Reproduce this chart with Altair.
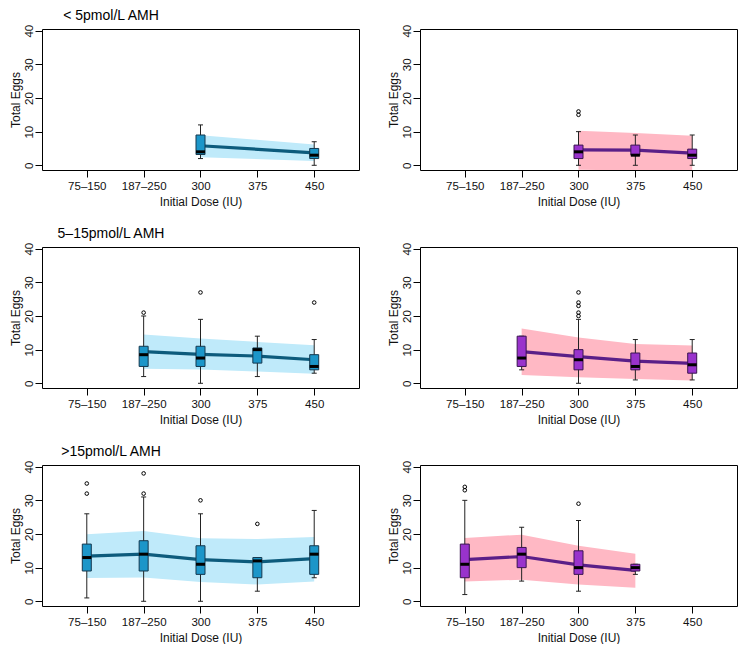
import json
import altair as alt
import pandas as pd

# ---- data ----
dose_labels = ["75–150", "187–250", "300", "375", "450"]
dose_pos = [1, 2, 3, 4, 5]

titles = ["< 5pmol/L AMH", "5–15pmol/L AMH", ">15pmol/L AMH"]

# Row 1 left
l1_pos = [3, 5]
l1_q1 = [3.2, 2]
l1_med = [4, 3]
l1_q3 = [9, 5]
l1_wlo = [2, 0]
l1_whi = [12, 7]
l1_out_pos = []
l1_out_val = []
l1_fit = [5.8, 3.7]
l1_hi = [8.9, 6.2]
l1_lo = [2.4, 1.3]

# Row 1 right
r1_pos = [3, 4, 5]
r1_q1 = [2, 3, 2]
r1_med = [4, 3, 3]
r1_q3 = [6, 6, 4.8]
r1_wlo = [0, 0, 0]
r1_whi = [10, 9, 9]
r1_out_pos = [3, 3]
r1_out_val = [15, 16]
r1_fit = [4.6, 4.5, 3.6]
r1_hi = [10.3, 9.6, 8.8]
r1_lo = [-1.3, -1.6, -2.0]

# Row 2 left
l2_pos = [2, 3, 4, 5]
l2_q1 = [5, 5, 6, 4]
l2_med = [8.5, 7.5, 10, 5]
l2_q3 = [11, 11, 10.5, 8.5]
l2_wlo = [2, 0, 2, 3]
l2_whi = [20, 19, 14, 13]
l2_out_pos = [2, 3, 5]
l2_out_val = [21, 27, 24]
l2_fit = [9.4, 8.6, 8.1, 7.0]
l2_hi = [14.5, 13.3, 12.3, 11.3]
l2_lo = [4.3, 4.1, 3.5, 2.8]

# Row 2 right
r2_pos = [2, 3, 4, 5]
r2_q1 = [5, 4, 4, 3]
r2_med = [7.5, 7, 5, 5.5]
r2_q3 = [14, 10, 9, 9]
r2_wlo = [4, 0, 1, 1]
r2_whi = [14, 19, 13, 13]
r2_out_pos = [3, 3, 3, 3, 3]
r2_out_val = [20, 21, 23, 24, 27]
r2_fit = [9.4, 7.9, 6.6, 5.9]
r2_hi = [16.3, 13.6, 11.7, 11.2]
r2_lo = [2.5, 1.8, 1.25, 0.8]

# Row 3 left
l3_pos = [1, 2, 3, 4, 5]
l3_q1 = [9, 9, 8, 7, 8]
l3_med = [13, 14, 11, 12, 14]
l3_q3 = [17, 18, 16.5, 13, 16.5]
l3_wlo = [1, 0, 0, 3, 7]
l3_whi = [26, 31, 26, 13, 27]
l3_out_pos = [1, 1, 2, 2, 3, 4]
l3_out_val = [32, 35, 32, 38, 30, 23]
l3_fit = [13.4, 14.0, 12.4, 11.7, 12.7]
l3_hi = [19.9, 20.9, 18.7, 18.5, 19.1]
l3_lo = [6.9, 7.1, 5.7, 5.0, 5.9]

# Row 3 right
r3_pos = [1, 2, 3, 4]
r3_q1 = [7, 10, 8, 9]
r3_med = [11, 14, 10, 10]
r3_q3 = [17, 16, 15, 11]
r3_wlo = [2, 6, 3, 8]
r3_whi = [30, 22, 24, 11]
r3_out_pos = [1, 1, 3]
r3_out_val = [33, 34, 29]
r3_fit = [12.4, 13.3, 10.8, 9.2]
r3_hi = [18.8, 19.8, 16.5, 14.1]
r3_lo = [5.9, 6.4, 5.0, 4.0]

BLUE = dict(box="#1c96c9", stroke="#14384f", line="#0d5b7c", band="#bfeafa")
PURPLE = dict(box="#9933cc", stroke="#3a1450", line="#5a1f88", band="#ffb8c4")

W, H = 317, 141
FONT = "Liberation Sans"

label_expr = "%s[datum.value - 1]" % json.dumps(dose_labels, ensure_ascii=False)

xscale = alt.Scale(domain=[0.3, 5.7], nice=False, zero=False)
yscale = alt.Scale(domain=[-1.4, 40.5], nice=False, zero=False)
xaxis = alt.Axis(values=dose_pos, labelExpr=label_expr, title="Initial Dose (IU)",
                 labelPadding=3, titlePadding=5)
yaxis = alt.Axis(values=[0, 10, 20, 30, 40], title="Total Eggs", labelAngle=-90,
                 labelAlign="center", labelBaseline="bottom", labelPadding=1,
                 titlePadding=1)


def panel(title, pos, q1, med, q3, wlo, whi, opos, oval, fit, hi, lo, pal):
    box = pd.DataFrame(dict(pos=pos, q1=q1, med=med, q3=q3, wlo=wlo, whi=whi,
                            fit=fit, hi=hi, lo=lo))
    outl = pd.DataFrame(dict(pos=opos, val=oval))
    X = alt.X("pos:Q", scale=xscale, axis=xaxis)

    def Y(f):
        return alt.Y(f + ":Q", scale=yscale, axis=yaxis)

    band = alt.Chart(box).mark_area(color=pal["band"], opacity=1, clip=True).encode(
        x=X, y=Y("hi"), y2="lo:Q")
    line = alt.Chart(box).mark_line(color=pal["line"], strokeWidth=3.2).encode(
        x=X, y=Y("fit"))
    whisk = alt.Chart(box).mark_rule(color="#222", strokeWidth=1).encode(
        x=X, y=Y("wlo"), y2="whi:Q")
    cap_lo = alt.Chart(box).mark_tick(orient="horizontal", size=5, thickness=1,
                                      color="#222", opacity=1).encode(x=X, y=Y("wlo"))
    cap_hi = alt.Chart(box).mark_tick(orient="horizontal", size=5, thickness=1,
                                      color="#222", opacity=1).encode(x=X, y=Y("whi"))
    bars = alt.Chart(box).mark_bar(width=9, color=pal["box"], stroke=pal["stroke"],
                                   strokeWidth=1).encode(x=X, y=Y("q1"), y2="q3:Q")
    medt = alt.Chart(box).mark_tick(orient="horizontal", size=9, thickness=3,
                                    color="black", opacity=1).encode(x=X, y=Y("med"))
    layers = [band, line, whisk, cap_lo, cap_hi, bars, medt]
    if len(outl):
        pts = alt.Chart(outl).mark_point(shape="circle", filled=False, size=13,
                                         color="black", strokeWidth=1,
                                         opacity=1).encode(x=X, y=Y("val"))
        layers.append(pts)
    return alt.layer(*layers).properties(
        width=W, height=H,
        title=alt.TitleParams(title, anchor="start", frame="group", align="center",
                              dx=69, fontSize=14, font=FONT, fontWeight="normal",
                              color="black", offset=1))


rows = [
    alt.hconcat(panel(titles[0], l1_pos, l1_q1, l1_med, l1_q3, l1_wlo, l1_whi, l1_out_pos, l1_out_val, l1_fit, l1_hi, l1_lo, BLUE),
                panel(" ", r1_pos, r1_q1, r1_med, r1_q3, r1_wlo, r1_whi, r1_out_pos, r1_out_val, r1_fit, r1_hi, r1_lo, PURPLE),
                spacing=26),
    alt.hconcat(panel(titles[1], l2_pos, l2_q1, l2_med, l2_q3, l2_wlo, l2_whi, l2_out_pos, l2_out_val, l2_fit, l2_hi, l2_lo, BLUE),
                panel(" ", r2_pos, r2_q1, r2_med, r2_q3, r2_wlo, r2_whi, r2_out_pos, r2_out_val, r2_fit, r2_hi, r2_lo, PURPLE),
                spacing=26),
    alt.hconcat(panel(titles[2], l3_pos, l3_q1, l3_med, l3_q3, l3_wlo, l3_whi, l3_out_pos, l3_out_val, l3_fit, l3_hi, l3_lo, BLUE),
                panel(" ", r3_pos, r3_q1, r3_med, r3_q3, r3_wlo, r3_whi, r3_out_pos, r3_out_val, r3_fit, r3_hi, r3_lo, PURPLE),
                spacing=26),
]

chart = alt.vconcat(*rows, spacing=18).properties(padding=0).configure_view(
    stroke="black", strokeWidth=1
).configure_axis(
    domain=False, grid=False, tickColor="black", tickSize=7, tickWidth=1,
    labelFont=FONT, labelFontSize=11.5, labelColor="#111",
    titleFont=FONT, titleFontSize=12, titleFontWeight="normal", titleColor="#111",
)

chart.save("out.html", embed_options={"renderer": "svg", "actions": False})
